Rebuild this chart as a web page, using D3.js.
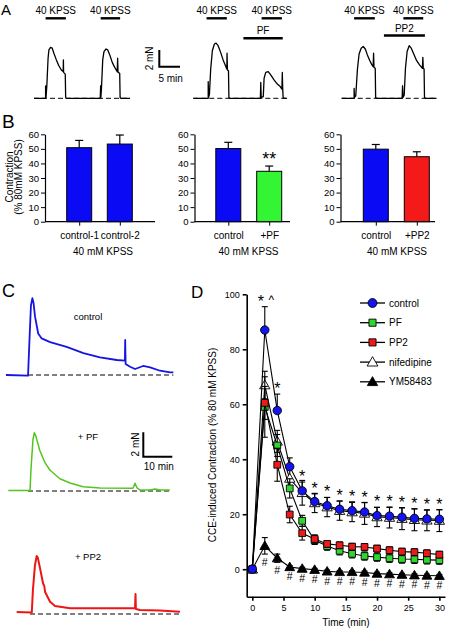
<!DOCTYPE html>
<html><head><meta charset="utf-8">
<script src="https://cdn.jsdelivr.net/npm/d3@7"></script>
<style>
body{margin:0;background:#fff}
svg{display:block}
text{font-family:"Liberation Sans",Arial,Helvetica,sans-serif;fill:#000}
</style></head>
<body><svg id="c" width="451" height="629"></svg>
<script>
// ---------------- DATA ----------------
// Panel A traces: [time (min), force (mN)]
const aCtrlTrace = [[0,0],[2.8,0],[2.8,1.5],[2.9,0.1],[3.1,1.5],[3.4,4.8],[3.6,5.8],[4.0,6.1],[4.4,6.0],[4.8,5.4],[5.4,4.6],[6.0,3.9],[6.6,3.4],[7.05,3.2],[7.1,4.6],[7.15,3.1],[7.55,2.9],[7.65,0.1],[7.8,0],
  [16.0,0],[16.1,1.5],[16.15,0.1],[16.3,1.2],[16.6,4.6],[16.9,5.6],[17.4,5.9],[17.8,5.8],[18.3,5.2],[18.9,4.3],[19.5,3.7],[20.1,3.2],[20.2,4.8],[20.3,3.1],[20.7,3.0],[20.8,0.1],[21.0,0],[23.2,0]];
const aPFTrace = [[0,0],[3.6,0],[3.6,2.0],[3.7,0.1],[3.9,0.5],[4.2,3.5],[4.6,5.7],[5.1,6.5],[5.5,6.6],[6.0,6.3],[6.6,5.5],[7.2,4.6],[7.7,4.0],[8.1,3.5],[8.15,5.4],[8.25,3.4],[8.5,3.3],[8.6,0.1],[8.8,0],
  [16.2,0],[16.3,1.9],[16.4,0.1],[16.9,0.2],[17.1,2.4],[17.5,3.1],[18.1,3.2],[18.7,2.8],[19.5,2.2],[20.3,1.7],[21.0,1.4],[21.4,1.1],[21.5,3.1],[21.6,1.1],[21.7,0.1],[21.9,0],[22.6,0]];
const aPP2Trace = [[0,0],[3.0,0],[3.0,1.2],[3.1,0.1],[3.4,0.3],[3.8,3.5],[4.2,5.3],[4.7,6.0],[5.2,6.2],[5.7,5.9],[6.2,5.2],[6.8,4.5],[7.3,4.0],[7.6,3.8],[7.7,5.4],[7.8,3.7],[8.1,3.6],[8.2,0.1],[8.4,0],
  [14.6,0],[14.7,1.5],[14.8,0.1],[15.1,0.4],[15.4,3.6],[15.8,5.6],[16.3,6.3],[16.8,6.0],[17.4,5.3],[18.1,4.5],[18.8,4.0],[19.5,3.6],[19.6,4.9],[19.7,3.6],[19.9,3.5],[20.0,0.1],[20.2,0],[22.9,0]];
const aCtrlKPSS = [[2.8,7.7],[16.1,20.8]];
const aPFKPSS = [[3.2,8.1],[16.5,21.4]];
const aPFDrug = [12.1,21.6];
const aPP2KPSS = [[3.0,8.0],[14.9,19.7]];
const aPP2Drug = [10.2,20.1];

// Panel B
const bCats1 = ["control-1","control-2"], bVals1 = [50.8,53.3], bSem1 = [5.0,6.2];
const bCats2 = ["control","+PF"], bVals2 = [50.2,34.6], bSem2 = [4.3,3.6];
const bCats3 = ["control","+PP2"], bVals3 = [49.8,44.6], bSem3 = [3.2,3.4];
const bTicks = [0,10,20,30,40,50,60];

// Panel C traces: [time (min), force (mN)]
const cCtrlTrace = [[0,0],[7.6,-0.05],[8.1,2.9],[8.6,5.7],[9.1,6.3],[9.5,5.9],[10.0,4.8],[11.1,3.4],[12.3,3.0],[15.2,2.7],[20.9,2.3],[26.7,1.8],[32.4,1.45],[38.2,1.23],[41.0,1.17],[41.1,2.87],[41.25,0.9],[42.8,0.68],[44.5,0.49],[47.3,0.74],[49.7,0.63],[53.1,0.35],[56.6,0.22],[57.7,0.22]];
const cPFTrace = [[0,0.04],[7.5,0.04],[7.8,1.7],[8.5,4.2],[8.97,4.78],[9.5,4.5],[10.9,3.3],[12.7,2.3],[14.4,1.7],[17.8,1.0],[21.3,0.66],[25.8,0.35],[31.6,0.25],[43.0,0.22],[43.7,0.63],[44.4,0.25],[45.4,0.08],[48.9,0.08],[50.6,0.16],[52.3,0.08],[55.7,0.08]];
const cPP2Trace = [[0,0.16],[5.2,0.12],[5.6,2.0],[6.3,4.0],[6.9,4.75],[7.3,4.6],[8.0,3.8],[8.6,3.1],[9.1,2.5],[9.5,2.3],[9.8,1.8],[11.5,1.0],[13.2,0.66],[18.4,0.47],[28.7,0.47],[40.8,0.49],[40.97,1.64],[41.1,0.41],[42.5,0.33],[49.4,0.29],[56.3,0.19]];

// Panel D
const dTime = [0,2,4,6,8,10,12,14,16,18,20,22,24,26,28,30];
const dControl = [0,87,57.7,37.3,28.5,24.6,23.1,21.8,21.3,20.8,19.5,19.3,18.9,18.5,18.3,18.2];
const dControlSem = [0,8.5,6,3.2,3.2,2.8,3,3,3.2,3.4,3,3.2,3.4,3.4,3.2,3.4];
const dPF = [0,59,45,29.4,17.6,10.5,8.4,6.7,5.6,4.8,4.4,4.0,3.7,3.6,3.4,3.3];
const dPFSem = [0,11,4,3.5,2,1.5,1.5,1.5,1.5,1.5,1.5,1.5,1.5,1.5,1.5,1.5];
const dPP2 = [0,60.5,38,19.9,13.1,11,9.2,8.7,8.2,8.1,7.5,6.9,6.4,6.2,5.8,5.3];
const dPP2Sem = [0,6,6,3,2.5,1.5,1.2,1.2,1.2,1.2,1.2,1.2,1.2,1.2,1.2,1.2];
const dNif = [0,67,46.5,33,27.8,24.1,22.6,21.3,20.8,20.3,19.0,18.8,18.4,18.0,17.8,17.7];
const dNifSem = [0,5,4,3.5,4.5,3.5,3.5,3.5,3.5,4,3.5,3.8,4,4,3.8,4];
const dYM = [0,8.5,4.0,0.8,0.2,-0.2,-0.8,-1.0,-1.0,-1.2,-1.6,-1.8,-2.0,-2.2,-2.3,-2.4];
const dYMSem = [0,3,1.5,0.5,0.5,0.5,0.5,0.5,0.5,0.5,0.5,0.5,0.5,0.5,0.5,0.5];
const dStarTimes = [2,4,8,10,12,14,16,18,20,22,24,26,28,30];
const dHashTimes = [2,4,6,8,10,12,14,16,18,20,22,24,26,28,30];
const dXTicks = [0,5,10,15,20,25,30];
const dYTicks = [0,20,40,60,80,100];
const dLegend = ["control","PF","PP2","nifedipine","YM58483"];

// ---------------- DRAW ----------------
const svg = d3.select("#c");
function txt(s, x, y, size, anchor){
  return svg.append("text").attr("x",x).attr("y",y).attr("font-size",size)
    .attr("text-anchor",anchor||"start").text(s);
}
// panel letters
txt("A",1,15,15);
txt("B",2,128,19);
txt("C",2,297,18);
txt("D",191,298,17);

// ---- Panel A ----
const A_PX_MIN = 4.14, A_PX_MN = 8.35, A_BASE = 98.3;
const aY = d3.scaleLinear().domain([0,1]).range([A_BASE, A_BASE - A_PX_MN]);
function aScale(x0){ return d3.scaleLinear().domain([0,1]).range([x0, x0 + A_PX_MIN]); }
function drawATrace(trace, x0, kpss, drug, drugLabel, drugY){
  const xs = aScale(x0);
  const tEnd = trace[trace.length-1][0];
  svg.append("line").attr("x1",xs(0)).attr("x2",xs(tEnd)).attr("y1",aY(0)).attr("y2",aY(0))
    .attr("stroke","#000").attr("stroke-width",1).attr("stroke-dasharray","5,3");
  svg.append("path").datum(trace)
    .attr("d", d3.line().x(d=>xs(d[0])).y(d=>aY(d[1])))
    .attr("fill","none").attr("stroke","#000").attr("stroke-width",1.3).attr("stroke-linejoin","round");
  kpss.forEach(k=>{
    svg.append("line").attr("x1",xs(k[0])).attr("x2",xs(k[1])).attr("y1",18.3).attr("y2",18.3)
      .attr("stroke","#000").attr("stroke-width",2.4);
    txt("40 KPSS", (xs(k[0])+xs(k[1]))/2, 14, 10, "middle");
  });
  if (drug){
    svg.append("line").attr("x1",xs(drug[0])).attr("x2",xs(drug[1])).attr("y1",drugY).attr("y2",drugY)
      .attr("stroke","#000").attr("stroke-width",2.4);
    txt(drugLabel, (xs(drug[0])+xs(drug[1]))/2, drugY-4, 10, "middle");
  }
}
drawATrace(aCtrlTrace, 34, aCtrlKPSS);
drawATrace(aPFTrace, 193.3, aPFKPSS, aPFDrug, "PF", 38.3);
drawATrace(aPP2Trace, 341.7, aPP2KPSS, aPP2Drug, "PP2", 35.5);
// scale bar A
{
  const xs = aScale(159.3);
  const sy = d3.scaleLinear().domain([0,1]).range([66.7, 66.7 - A_PX_MN]);
  svg.append("path").attr("d", `M${xs(0)},${sy(2)}V${sy(0)}H${xs(5)}`)
    .attr("fill","none").attr("stroke","#000").attr("stroke-width",2);
  svg.append("text").attr("transform",`translate(153,${sy(1)}) rotate(-90)`)
    .attr("text-anchor","middle").attr("font-size",10).text("2 mN");
  txt("5 min", (xs(0)+xs(5))/2+1, 81.5, 10, "middle");
}

// ---- Panel B ----
const bY = d3.scaleLinear().domain([0,60]).range([221.7,134.3]);
function drawB(cats, vals, sems, colors, axX, c1, c2, endX, labX){
  const xs = d3.scalePoint().domain(cats).range([c1,c2]);
  const bw = 25;
  const ga = svg.append("g").attr("transform",`translate(${axX},0)`)
    .call(d3.axisLeft(bY).tickValues(bTicks).tickSize(4).tickSizeOuter(0).tickPadding(2));
  ga.selectAll("text").attr("font-size",9.5).attr("font-family","Liberation Sans, Arial, sans-serif");
  ga.select(".domain").attr("stroke-width",1.2);
  svg.append("line").attr("x1",axX).attr("x2",endX).attr("y1",bY(0)).attr("y2",bY(0))
    .attr("stroke","#000").attr("stroke-width",1.2);
  const gb = svg.append("g").attr("transform",`translate(0,${bY(0)})`)
    .call(d3.axisBottom(xs).tickSize(4).tickPadding(6.5));
  gb.select(".domain").remove();
  gb.selectAll("text").attr("font-size",10).attr("font-family","Liberation Sans, Arial, sans-serif");
  cats.forEach((c,i)=>{
    const x = xs(c);
    svg.append("line").attr("x1",x).attr("x2",x).attr("y1",bY(vals[i])).attr("y2",bY(vals[i]+sems[i]))
      .attr("stroke","#000").attr("stroke-width",1.2);
    svg.append("line").attr("x1",x-4).attr("x2",x+4).attr("y1",bY(vals[i]+sems[i])).attr("y2",bY(vals[i]+sems[i]))
      .attr("stroke","#000").attr("stroke-width",1.2);
    svg.append("rect").attr("x",x-bw/2).attr("width",bw).attr("y",bY(vals[i])).attr("height",bY(0)-bY(vals[i]))
      .attr("fill",colors[i]).attr("stroke","#000").attr("stroke-width",1);
  });
  txt("40 mM KPSS", labX, 254.5, 10, "middle");
  return xs;
}
drawB(bCats1,bVals1,bSem1,["#0a0af5","#0a0af5"],45,79.2,119.8,155,103);
const xsB2 = drawB(bCats2,bVals2,bSem2,["#0a0af5","#33f533"],194.5,228.3,269.2,290,248.5);
drawB(bCats3,bVals3,bSem3,["#0a0af5","#f51a1a"],340.5,375.8,416.8,435,397);
txt("**", xsB2("+PF"), bY(bVals2[1]+bSem2[1]) - 1, 18, "middle");
svg.append("text").attr("transform","translate(13,177) rotate(-90)").attr("text-anchor","middle")
  .attr("font-size",10).text("Contraction");
svg.append("text").attr("transform","translate(22,177) rotate(-90)").attr("text-anchor","middle")
  .attr("font-size",10).text("(% 80mM KPSS)");

// ---- Panel C ----
const C_PX_MIN = 2.9, C_PX_MN = 12.2;
function drawCTrace(trace, x0, base, color, sw, dashFrom, dashTo, label, labY){
  const xs = d3.scaleLinear().domain([0,1]).range([x0, x0 + C_PX_MIN]);
  const ys = d3.scaleLinear().domain([0,1]).range([base, base - C_PX_MN]);
  svg.append("line").attr("x1",xs(dashFrom)).attr("x2",xs(dashTo)).attr("y1",ys(0)).attr("y2",ys(0))
    .attr("stroke","#000").attr("stroke-width",1).attr("stroke-dasharray","5,3");
  svg.append("path").datum(trace).attr("d", d3.line().x(d=>xs(d[0])).y(d=>ys(d[1])))
    .attr("fill","none").attr("stroke",color).attr("stroke-width",sw).attr("stroke-linejoin","round");
  txt(label, 88, labY, 9.5, "middle");
}
drawCTrace(cCtrlTrace, 6, 375, "#1515e0", 1.8, 7.6, 57.7, "control", 320);
drawCTrace(cPFTrace, 8.3, 491, "#55c422", 1.5, 6.8, 55.8, "+ PF", 440);
drawCTrace(cPP2Trace, 16.7, 614, "#ee1515", 2, 4.6, 56.3, "+ PP2", 560);
{
  const xs = d3.scaleLinear().domain([0,1]).range([143.3, 143.3 + C_PX_MIN]);
  const ys = d3.scaleLinear().domain([0,1]).range([456.7, 456.7 - C_PX_MN]);
  svg.append("path").attr("d", `M${xs(0)},${ys(2)}V${ys(0)}H${xs(10)}`)
    .attr("fill","none").attr("stroke","#000").attr("stroke-width",2);
  svg.append("text").attr("transform",`translate(139,${ys(1)}) rotate(-90)`)
    .attr("text-anchor","middle").attr("font-size",10).text("2 mN");
  txt("10 min", (xs(0)+xs(10))/2+1, 469.5, 10, "middle");
}

// ---- Panel D ----
const xD = d3.scaleLinear().domain([-0.9,30.9]).range([246.7,445]);
const yD = d3.scaleLinear().domain([-10,100]).range([596.7,294.3]);
const gyD = svg.append("g").attr("transform",`translate(${xD(-0.9)},0)`)
  .call(d3.axisLeft(yD).tickValues(dYTicks).tickSize(4).tickSizeOuter(0).tickPadding(3));
gyD.selectAll("text").attr("font-size",9).attr("font-family","Liberation Sans, Arial, sans-serif");
gyD.selectAll("line,path").attr("stroke-width",1.6);
const gxD = svg.append("g").attr("transform",`translate(0,${yD(-10)})`)
  .call(d3.axisBottom(xD).tickValues(dXTicks).tickSize(4).tickSizeOuter(0).tickPadding(4));
gxD.selectAll("text").attr("font-size",9).attr("font-family","Liberation Sans, Arial, sans-serif");
gxD.selectAll("line,path").attr("stroke-width",1.6);
txt("Time (min)", 346, 626, 10, "middle");
svg.append("text").attr("transform","translate(216,445) rotate(-90)").attr("text-anchor","middle")
  .attr("font-size",10).text("CCE-induced Contraction (% 80 mM KPSS)");

const series = [
  {name:"YM58483", v:dYM, s:dYMSem, sym:d3.symbolTriangle, size:42, fill:"#000", up:false},
  {name:"nifedipine", v:dNif, s:dNifSem, sym:d3.symbolTriangle, size:46, fill:"#fff", up:false},
  {name:"PF", v:dPF, s:dPFSem, sym:d3.symbolSquare, size:46, fill:"#2ed62e", up:false},
  {name:"PP2", v:dPP2, s:dPP2Sem, sym:d3.symbolSquare, size:46, fill:"#ee1a1a", up:false},
  {name:"control", v:dControl, s:dControlSem, sym:d3.symbolCircle, size:56, fill:"#1414f0", up:true}
];
series.forEach(se=>{
  const g = svg.append("g");
  dTime.forEach((t,i)=>{
    if (se.s[i] <= 0) return;
    const x = xD(t), yTop = yD(se.v[i]+se.s[i]), yBot = se.up ? yD(se.v[i]) : yD(se.v[i]-se.s[i]);
    g.append("line").attr("x1",x).attr("x2",x).attr("y1",yTop).attr("y2",yBot).attr("stroke","#000").attr("stroke-width",1.1);
    g.append("line").attr("x1",x-3).attr("x2",x+3).attr("y1",yTop).attr("y2",yTop).attr("stroke","#000").attr("stroke-width",1.1);
    if (!se.up) g.append("line").attr("x1",x-3).attr("x2",x+3).attr("y1",yBot).attr("y2",yBot).attr("stroke","#000").attr("stroke-width",1.1);
  });
  g.append("path").datum(dTime.map((t,i)=>[t,se.v[i]]))
    .attr("d", d3.line().x(d=>xD(d[0])).y(d=>yD(d[1])))
    .attr("fill","none").attr("stroke","#000").attr("stroke-width",1.1);
  dTime.forEach((t,i)=>{
    g.append("path").attr("d", d3.symbol(se.sym, se.size)())
      .attr("transform",`translate(${xD(t)},${yD(se.v[i]) + (se.sym===d3.symbolTriangle?0.8:0)})`)
      .attr("fill",se.fill).attr("stroke","#000").attr("stroke-width",0.9);
  });
});
// significance marks
dStarTimes.forEach(t=>{
  const i = dTime.indexOf(t);
  const cy = yD(dControl[i]+dControlSem[i]) - 9;
  const dx = t===2 ? -4 : 0;
  txt("*", xD(t)+dx, cy+9, 16, "middle");
});
txt("^", xD(2)+6.5, yD(dControl[1]+dControlSem[1]) - 3, 12, "middle");
dHashTimes.forEach(t=>{
  const i = dTime.indexOf(t);
  const cy = yD(dYM[i]-dYMSem[i]) + 8;
  txt("#", xD(t), cy+3.8, 10.5, "middle");
});
// legend
dLegend.forEach((name,k)=>{
  const se = series.find(s=>s.name===name);
  const y = 303 + k*19.7;
  svg.append("line").attr("x1",360).attr("x2",385).attr("y1",y).attr("y2",y).attr("stroke","#000").attr("stroke-width",1.3);
  svg.append("path").attr("d", d3.symbol(se.sym, se.size*1.1)())
    .attr("transform",`translate(372.5,${y + (se.sym===d3.symbolTriangle?0.8:0)})`)
    .attr("fill",se.fill).attr("stroke","#000").attr("stroke-width",0.9);
  txt(name, 389, y+3.6, 10, "start");
});
</script>
</body></html>
